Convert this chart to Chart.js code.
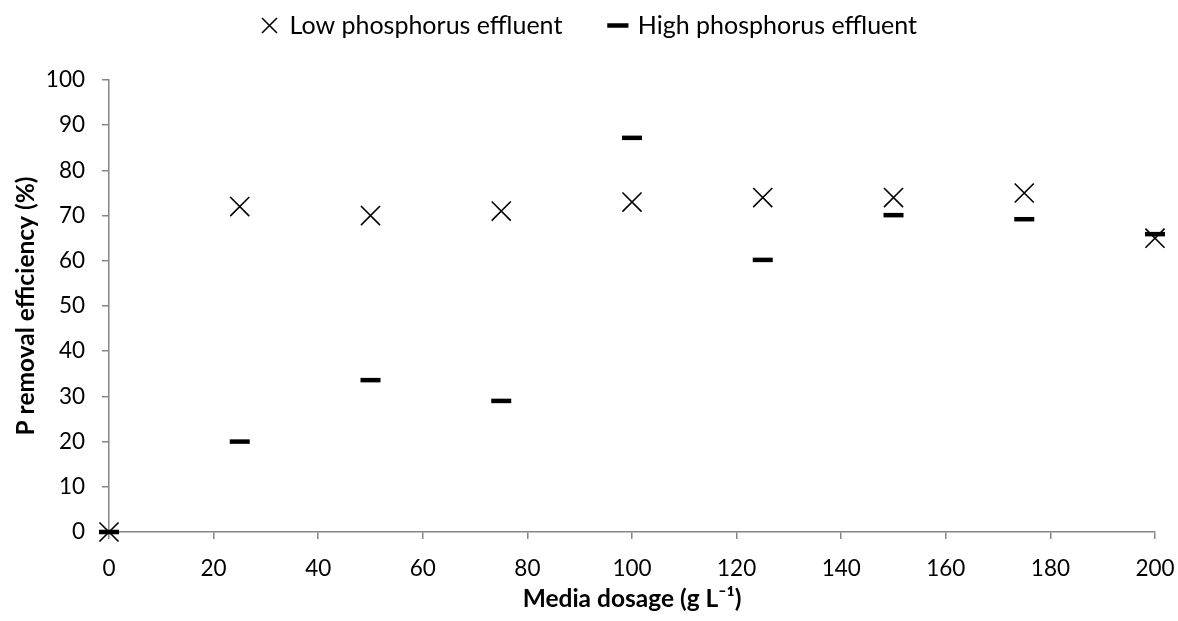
<!DOCTYPE html>
<html>
<head>
<meta charset="utf-8">
<script src="https://cdn.jsdelivr.net/npm/chart.js@4.4.1/dist/chart.umd.min.js"></script>
<style>
  body { margin: 0; background: #fff; }
</style>
</head>
<body>
<canvas id="myChart" width="1178" height="621"></canvas>
<script>
// media dosage (g/L)
const dosage = [0, 25, 50, 75, 100, 125, 150, 175, 200];
const lowP = [0, 72, 70, 71, 73, 74, 74, 75, 65];
const highP = [0, 20, 33.6, 29, 87.2, 60.2, 70.1, 69.2, 65.9];

const seriesNames = ['Low phosphorus effluent', 'High phosphorus effluent'];

function toPoints(ys) {
    return dosage.map((x, i) => ({ x: x, y: ys[i] }));
}

const axisColor = '#868686';
const fontFamily = 'Lato, "Open Sans", sans-serif';

// keep the plot box where the original has it
const boxPlugin = {
    id: 'boxPlugin',
    beforeLayout(chart) {
        const legend = chart.legend;
        if (legend && !legend._patched) {
            const fit = legend.fit;
            legend.fit = function () {
                fit.call(this);
                this.height = 80;
            };
            legend._patched = true;
        }
    },
    afterLayout(chart) {
        const legend = chart.legend;
        legend.top = 13 - legend.options.labels.padding;
        // the original legend sits a bit right of centre
        legend.left += 12;
        legend.right += 12;
    }
};

const data = {
    datasets: [
        {
            label: seriesNames[0],
            data: toPoints(lowP),
            showLine: false,
            clip: false,
            pointStyle: 'crossRot',
            pointRadius: 13.5,
            pointHoverRadius: 13.5,
            pointBorderWidth: 1.6,
            pointBorderColor: '#000',
            pointBackgroundColor: '#000',
            order: 1
        },
        {
            label: seriesNames[1],
            data: toPoints(highP),
            showLine: false,
            clip: false,
            pointStyle: 'line',
            pointRadius: 10,
            pointHoverRadius: 10,
            pointBorderWidth: 4.5,
            pointBorderColor: '#000',
            pointBackgroundColor: '#000',
            order: 0
        }
    ]
};

const options = {
    responsive: false,
    animation: false,
    events: [],
    layout: {
        padding: { left: 0, right: 23, top: 0, bottom: 0 }
    },
    plugins: {
        legend: {
            display: true,
            position: 'top',
            labels: {
                usePointStyle: true,
                boxWidth: 15,
                boxHeight: 15,
                padding: 48,
                color: '#000',
                font: { family: fontFamily, size: 25 },
                sort: (a, b) => a.datasetIndex - b.datasetIndex
            }
        },
        tooltip: { enabled: false }
    },
    scales: {
        x: {
            type: 'linear',
            min: 0,
            max: 200,
            afterFit(scale) {
                scale.height = 89;
                scale.paddingLeft = 0;
                scale.paddingRight = 0;
            },
            border: { color: axisColor, width: 1.5 },
            grid: {
                drawOnChartArea: false,
                drawTicks: true,
                tickLength: 7,
                color: axisColor,
                lineWidth: 1.5
            },
            ticks: {
                stepSize: 20,
                padding: 16,
                color: '#000',
                font: { family: fontFamily, size: 22.5 }
            },
            title: {
                display: true,
                text: 'Media dosage (g L⁻¹)',
                color: '#000',
                font: { family: fontFamily, size: 24.5, weight: 'bold' },
                padding: { top: 0, bottom: 7 }
            }
        },
        y: {
            min: 0,
            max: 100,
            afterFit(scale) { scale.width = 109; },
            border: { color: axisColor, width: 1.5 },
            grid: {
                drawOnChartArea: false,
                drawTicks: true,
                tickLength: 7,
                color: axisColor,
                lineWidth: 1.5
            },
            ticks: {
                stepSize: 10,
                padding: 17,
                color: '#000',
                font: { family: fontFamily, size: 22.5 }
            },
            title: {
                display: true,
                text: 'P removal efficiency (%)',
                color: '#000',
                font: { family: fontFamily, size: 24.5, weight: 'bold' },
                padding: { top: 11, bottom: 0 }
            }
        }
    }
};

const config = {
    type: 'scatter',
    data: data,
    options: options,
    plugins: [boxPlugin]
};

const myChart = new Chart(document.getElementById('myChart'), config);
</script>
</body>
</html>
